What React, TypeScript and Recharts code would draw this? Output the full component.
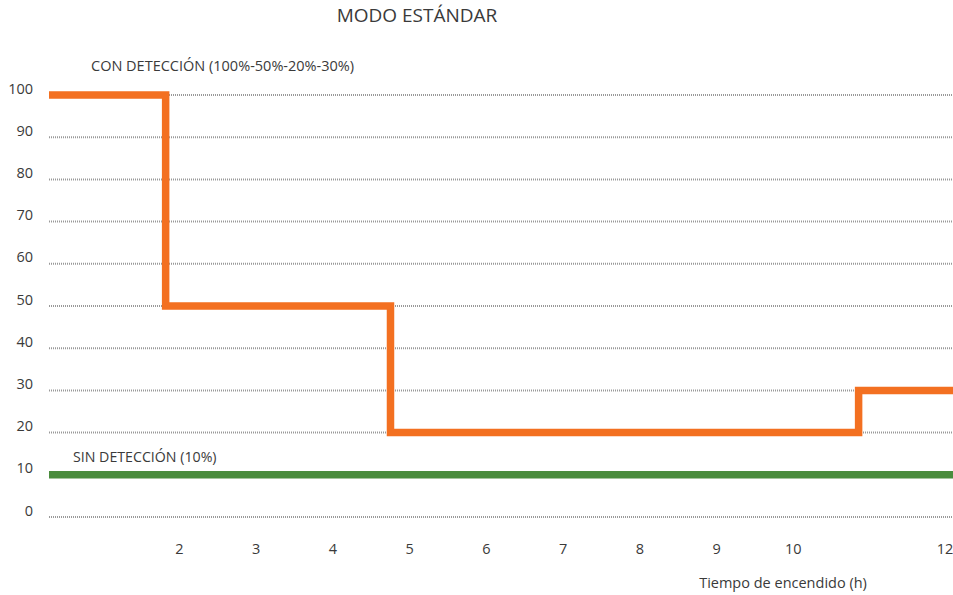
import { LineChart, Line, XAxis, YAxis, CartesianGrid } from 'recharts'

// horas en las que cambia el nivel (inicio, cambios y final visible)
const stepHours = [0.3, 1.82, 4.75, 10.85, 12.08]
const conDeteccion = [100, 50, 20, 30, 30]
const sinDeteccion = [10, 10, 10, 10, 10]

const xTicks = [2, 3, 4, 5, 6, 7, 8, 9, 10, 12]
const yTicks = [0, 10, 20, 30, 40, 50, 60, 70, 80, 90, 100]

const FONT = '"Open Sans", sans-serif'
const TEXT = '#3a3a3a'
const ORANGE = '#F37021'
const GREEN = '#4A8C3D'

const data = stepHours.map((h, i) => ({
  hora: h,
  con: conDeteccion[i],
  sin: sinDeteccion[i],
}))

const YTick = ({ y, payload }: any) => (
  <text x={33} y={y - 7} textAnchor="end" dominantBaseline="central" fontSize={14.5} fill={TEXT} fontFamily={FONT}>
    {payload.value}
  </text>
)

const XTick = ({ x, payload }: any) => (
  <text x={x} y={548} textAnchor="middle" dominantBaseline="central" fontSize={14.5} fill={TEXT} fontFamily={FONT}>
    {payload.value}
  </text>
)

const overlay = (left: number, top: number, size: number, center = false) => ({
  position: 'absolute' as const,
  left,
  top,
  fontSize: size,
  lineHeight: 1,
  whiteSpace: 'nowrap' as const,
  color: TEXT,
  fontFamily: FONT,
  transform: center ? 'translate(-50%, -50%)' : 'translateY(-50%)',
})

export default function App() {
  return (
    <div style={{ position: 'absolute', left: 0, top: 0, width: 953, height: 595, overflow: 'hidden', background: '#fff' }}>
      <LineChart width={953} height={595} data={data} margin={{ top: 95, right: 0, bottom: 0, left: 0 }}>
        <CartesianGrid vertical={false} stroke="#999" strokeWidth={2} strokeDasharray="1 1" />
        <XAxis
          dataKey="hora"
          type="number"
          domain={[0.3, 12.08]}
          allowDataOverflow
          ticks={xTicks}
          tick={<XTick />}
          axisLine={false}
          tickLine={false}
          height={78}
        />
        <YAxis
          domain={[0, 100]}
          ticks={yTicks}
          tick={<YTick />}
          axisLine={false}
          tickLine={false}
          width={49}
        />
        <Line type="stepAfter" dataKey="con" stroke={ORANGE} strokeWidth={7.5} dot={false} isAnimationActive={false} />
        <Line type="stepAfter" dataKey="sin" stroke={GREEN} strokeWidth={7.5} dot={false} isAnimationActive={false} />
      </LineChart>
      <div style={overlay(417, 15, 19, true)}>MODO ESTÁNDAR</div>
      <div style={overlay(91, 66, 14.5)}>CON DETECCIÓN (100%-50%-20%-30%)</div>
      <div style={overlay(73, 457, 14.2)}>SIN DETECCIÓN (10%)</div>
      <div style={overlay(783, 583, 14.5, true)}>Tiempo de encendido (h)</div>
    </div>
  )
}
